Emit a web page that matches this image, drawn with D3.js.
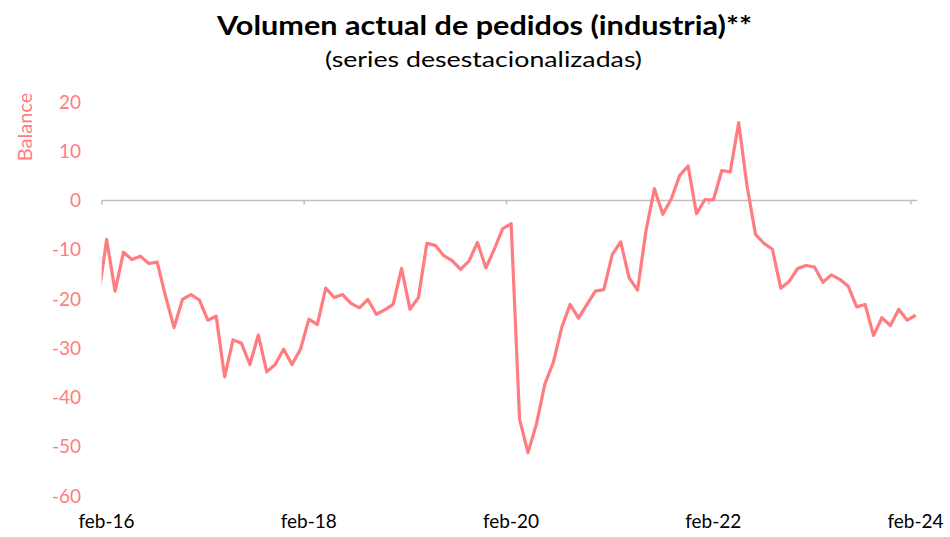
<!DOCTYPE html>
<html>
<head>
<meta charset="utf-8">
<script src="https://cdn.jsdelivr.net/npm/d3@7"></script>
<style>
  body { margin: 0; background: #fff; }
  text { font-family: Lato, "Open Sans", sans-serif; }
</style>
</head>
<body>
<div id="chart"></div>
<script>
// monthly balance, jan-16 .. feb-24 (jan-16 sits outside the plot and gets clipped)
var months = [];
for (var yr = 2016; yr <= 2024; yr++) {
  for (var m = 0; m < 12; m++) {
    if (yr == 2024 && m > 1) break;
    months.push(new Date(yr, m, 1));
  }
}
var values = [
  -20,
  -7.9, -18.4, -10.5, -12.0, -11.3, -12.8, -12.5, -19.5, -25.8, -20.1, -19.1, -20.2,
  -24.3, -23.5, -35.8, -28.3, -29.0, -33.3, -27.3, -34.8, -33.3, -30.2, -33.3, -30.2,
  -24.1, -25.2, -17.8, -19.7, -19.1, -20.9, -21.8, -20.1, -23.1, -22.2, -21.1, -13.8,
  -22.1, -19.7, -8.7, -9.1, -11.2, -12.2, -14.0, -12.3, -8.5, -13.7, -9.9, -5.7,
  -4.7, -44.4, -51.2, -45.4, -37.3, -32.9, -25.8, -21.1, -23.9, -21.1, -18.4, -18.1,
  -11.0, -8.4, -15.7, -18.2, -6.2, 2.4, -2.8, 0.3, 5.1, 7.0, -2.7, 0.2,
  0.1, 6.1, 5.8, 15.8, 2.9, -6.9, -8.7, -9.9, -17.8, -16.4, -13.8, -13.2,
  -13.5, -16.6, -15.1, -16.0, -17.4, -21.6, -21.1, -27.4, -23.8, -25.4, -22.1, -24.3,
  -23.3
];
var xTickLabels = ["feb-16", "feb-18", "feb-20", "feb-22", "feb-24"];
var yTicks = [20, 10, 0, -10, -20, -30, -40, -50, -60];

var data = months.map(function(d, i) { return {date: d, value: values[i]}; });

var width = 950, height = 537;
var salmon = "#FF7C80";

var svg = d3.select("#chart")
  .append("svg")
    .attr("width", width)
    .attr("height", height);

// month index counted from feb-16
function monthIdx(d) { return (d.getFullYear() - 2016) * 12 + d.getMonth() - 1; }

var x = d3.scaleLinear()
    .domain([0, 96])
    .range([102, 911]);

var y = d3.scaleLinear()
    .domain([-60, 20])
    .range([496, 102]);

// points sit in the middle of each month slot
var offset = 0.55;

// title
svg.append("text")
    .attr("x", 217).attr("y", 35)
    .attr("textLength", 535)
    .attr("lengthAdjust", "spacingAndGlyphs")
    .style("font-size", "27px")
    .style("font-weight", "bold")
    .text("Volumen actual de pedidos (industria)**");
svg.append("text")
    .attr("x", 325).attr("y", 67)
    .attr("textLength", 317)
    .attr("lengthAdjust", "spacingAndGlyphs")
    .style("font-size", "22px")
    .text("(series desestacionalizadas)");

// Y axis (labels only)
var yAxis = svg.append("g")
    .attr("transform", "translate(81,0)")
    .call(d3.axisLeft(y).tickValues(yTicks).tickSize(0).tickPadding(0)
      .tickFormat(function(d) { return String(d); }));
yAxis.select(".domain").remove();
yAxis.selectAll("text")
    .style("font-size", "19px")
    .style("font-family", "Lato, sans-serif")
    .attr("fill", salmon);

svg.append("text")
    .attr("transform", "rotate(-90)")
    .attr("x", -127).attr("y", 32)
    .attr("text-anchor", "middle")
    .style("font-size", "20px")
    .attr("fill", salmon)
    .text("Balance");

// X axis line at zero
var tickIdx = xTickLabels.map(function(d, i) { return i * 24; });
svg.append("line")
    .attr("x1", x(-0.04)).attr("x2", x(96.75))
    .attr("y1", y(0)).attr("y2", y(0))
    .attr("stroke", "#BFBFBF")
    .attr("stroke-width", 1.5);
svg.append("g")
  .selectAll("line.tick")
  .data(tickIdx)
  .enter()
  .append("line")
    .attr("x1", function(d) { return x(d); })
    .attr("x2", function(d) { return x(d); })
    .attr("y1", y(0))
    .attr("y2", y(0) + 4)
    .attr("stroke", "#BFBFBF")
    .attr("stroke-width", 1.5);

// X labels, low position
var xAxis = svg.append("g")
    .attr("transform", "translate(4," + 514 + ")")
    .call(d3.axisBottom(x).tickValues(tickIdx).tickSize(0).tickPadding(0)
      .tickFormat(function(d, i) { return xTickLabels[i]; }));
xAxis.select(".domain").remove();
xAxis.selectAll("text")
    .style("font-size", "19px")
    .style("font-family", "Lato, sans-serif")
    .attr("fill", "#000");

// clip to plot area
svg.append("clipPath").attr("id", "plotclip")
  .append("rect")
    .attr("x", x(-0.04)).attr("y", 80)
    .attr("width", x(96.75) - x(-0.04)).attr("height", 440);

var line = d3.line()
    .x(function(d) { return x(monthIdx(d.date) + offset); })
    .y(function(d) { return y(d.value); });

svg.append("path")
    .datum(data)
    .attr("clip-path", "url(#plotclip)")
    .attr("fill", "none")
    .attr("stroke", salmon)
    .attr("stroke-width", 3.2)
    .attr("stroke-linejoin", "round")
    .attr("d", line);
</script>
</body>
</html>
